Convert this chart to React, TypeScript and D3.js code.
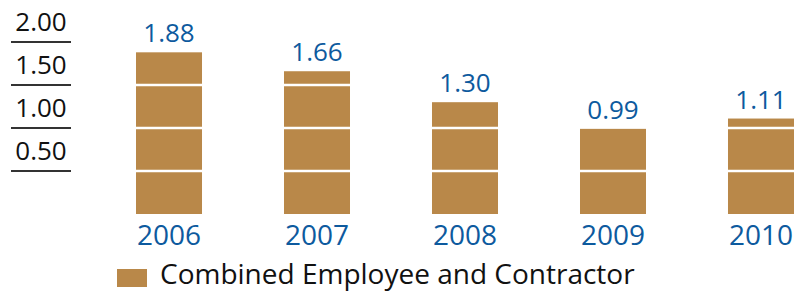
import React from "react";
import * as d3 from "d3";

const years = ["2006", "2007", "2008", "2009", "2010"];
const values = [1.88, 1.66, 1.3, 0.99, 1.11];
const valueLabels = ["1.88", "1.66", "1.30", "0.99", "1.11"];
const ticks = [0.5, 1.0, 1.5, 2.0];
const tickLabels = ["0.50", "1.00", "1.50", "2.00"];
const legendLabel = "Combined Employee and Contractor";

const W = 794;
const H = 291;
const BAR = "#b98849";
const BLUE = "#0d5a9e";
const FONT = "'Open Sans', 'Noto Sans', sans-serif";

export default function App() {
  const y = d3.scaleLinear().domain([0, 2]).range([214, 42]);
  const x = d3
    .scaleBand<string>()
    .domain(years)
    .range([136, 794])
    .paddingInner(0.554)
    .paddingOuter(0);

  return (
    <svg
      width={W}
      height={H}
      style={{ position: "absolute", left: 0, top: 0 }}
      fontFamily={FONT}
    >
      {/* y axis ticks */}
      {ticks.map((t, i) => (
        <g key={t}>
          <line x1={11} x2={71} y1={y(t)} y2={y(t)} stroke="#333" strokeWidth={2} />
          <text
            x={41}
            y={y(t) - 11}
            textAnchor="middle"
            fontSize={26}
            fill="#111"
          >
            {tickLabels[i]}
          </text>
        </g>
      ))}
      {/* bars */}
      {years.map((yr, i) => {
        const bx = x(yr)!;
        const bw = x.bandwidth();
        const top = y(values[i]);
        return (
          <g key={yr}>
            <rect x={bx} y={top} width={bw} height={y(0) - top} fill={BAR} />
            {ticks
              .filter((t) => t < values[i])
              .map((t) => (
                <line
                  key={t}
                  x1={bx}
                  x2={bx + bw}
                  y1={y(t)}
                  y2={y(t)}
                  stroke="#fff"
                  strokeWidth={2.5}
                />
              ))}
            <text
              x={bx + bw / 2}
              y={top - 10}
              textAnchor="middle"
              fontSize={26}
              fill={BLUE}
            >
              {valueLabels[i]}
            </text>
            <text
              x={bx + bw / 2}
              y={245}
              textAnchor="middle"
              fontSize={28}
              fill={BLUE}
            >
              {yr}
            </text>
          </g>
        );
      })}
      {/* legend */}
      <rect x={117} y={269} width={30} height={18} fill={BAR} />
      <text x={160} y={284} fontSize={28} fill="#111">
        {legendLabel}
      </text>
    </svg>
  );
}
